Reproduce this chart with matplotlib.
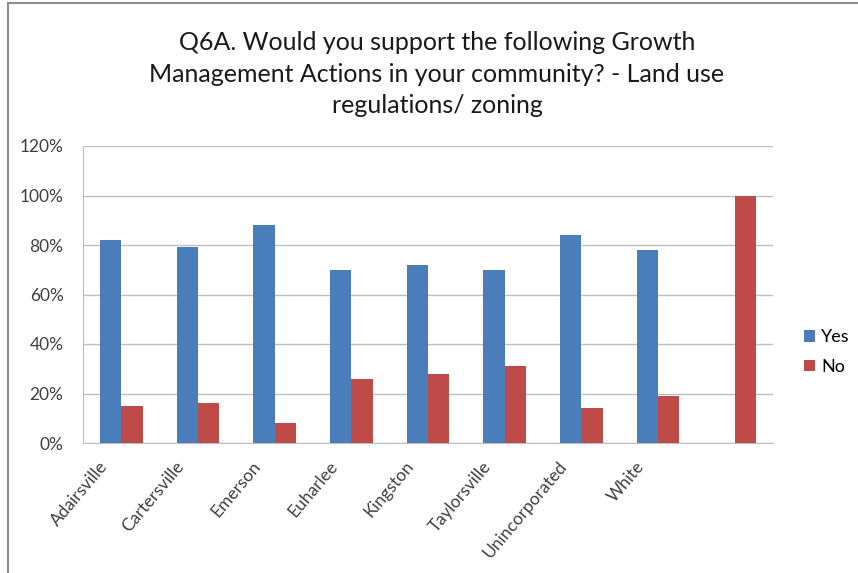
import numpy as np
import matplotlib.pyplot as plt
from matplotlib.lines import Line2D

# -------------------------
# DATA
# -------------------------
categories = ["Adairsville", "Cartersville", "Emerson", "Euharlee", "Kingston",
              "Taylorsville", "Unincorporated", "White", ""]
yes_vals = [82, 79, 88, 70, 72, 70, 84, 78, 0]
no_vals = [15, 16, 8, 26, 28, 31, 14, 19, 100]
y_ticks = [0, 20, 40, 60, 80, 100, 120]

title = ("Q6A. Would you support the following Growth\n"
         "Management Actions in your community? - Land use\n"
         "regulations/ zoning")

blue = "#4a7ebb"
red = "#be4b48"
font = "Lato"

# -------------------------
# FIGURE
# -------------------------
W, H = 858, 573
fig = plt.figure(figsize=(W / 100, H / 100), dpi=100)

# outer chart frame (left + top visible)
fig.add_artist(Line2D([8 / W, 8 / W], [0, 1 - 3 / H], color="#8c8c8c", lw=1.5))
fig.add_artist(Line2D([8 / W, 1], [1 - 3 / H, 1 - 3 / H], color="#8c8c8c", lw=1.5))

# plot area: x 83..773, y 146..443 (pixels from top)
ax = fig.add_axes([83 / W, 1 - 443 / H, (773 - 83) / W, (443 - 146) / H])

x = np.arange(len(categories))
bw = 0.28
ax.bar(x - bw / 2, yes_vals, bw, color=blue, label="Yes", zorder=3)
ax.bar(x + bw / 2, no_vals, bw, color=red, label="No", zorder=3)

ax.set_xlim(-0.5, len(categories) - 0.5)
ax.set_ylim(0, 120)
ax.set_yticks(y_ticks)
ax.set_yticklabels([f"{t}%" for t in y_ticks], fontsize=12.5, color="#404040",
                   family=font)
ax.yaxis.grid(True, color="#bfbfbf", lw=1, zorder=0)
ax.tick_params(axis="y", length=0, pad=14)
ax.tick_params(axis="x", length=0, pad=11)

ax.set_xticks(x - 0.3)
ax.set_xticklabels(categories, rotation=50, ha="right", rotation_mode="anchor",
                   fontsize=12.5, color="#404040", family=font)

for s in ["top", "right"]:
    ax.spines[s].set_visible(False)
ax.spines["left"].set_color("#bfbfbf")
ax.spines["bottom"].set_color("#bfbfbf")

fig.text(437 / W, 1 - 74 / H, title, ha="center", va="center", fontsize=18,
         family=font, color="#1a1a1a", linespacing=1.45)

ax.legend(loc="center left", bbox_to_anchor=(788 / W, 1 - 352 / H),
          bbox_transform=fig.transFigure, frameon=False,
          handlelength=0.6, handleheight=0.6, handletextpad=0.35,
          labelspacing=0.75, prop={"family": font, "size": 13})

plt.savefig("out.png", dpi=100)
